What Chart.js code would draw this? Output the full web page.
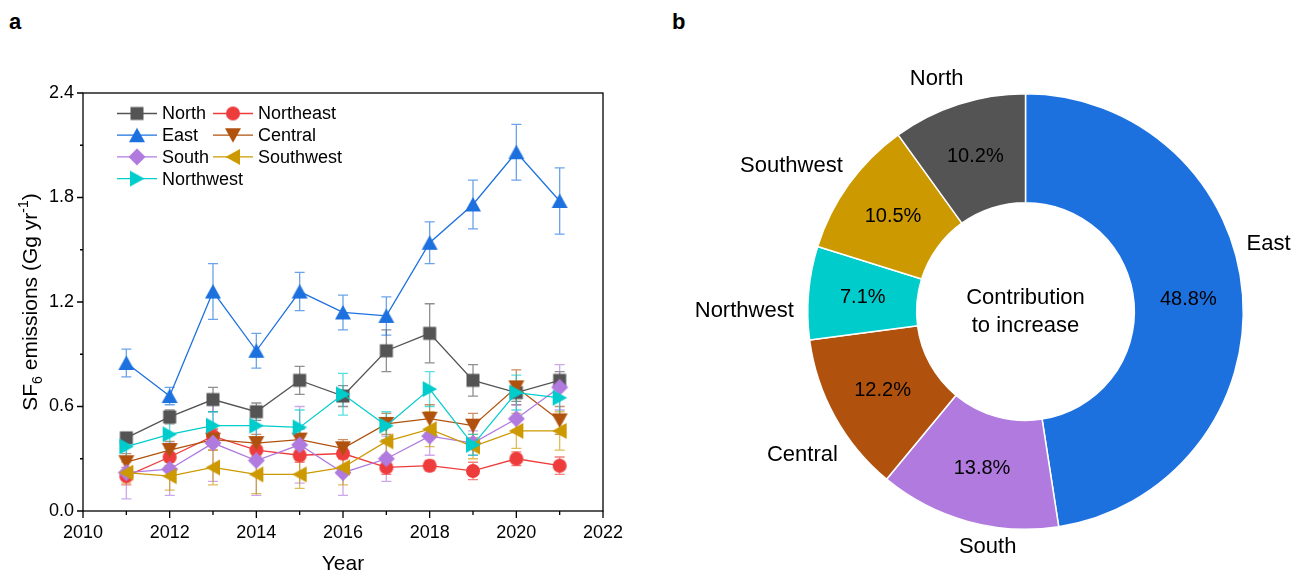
<!DOCTYPE html>
<html lang="en">
<head>
<meta charset="UTF-8" />
<title>SF6 emissions by region</title>
<script src="https://cdn.jsdelivr.net/npm/chart.js"></script>
<style>
  body {
    margin: 0;
    width: 1295px;
    height: 572px;
    background: #fff;
    font-family: 'Liberation Sans', Arial, sans-serif;
    position: relative;
    overflow: hidden;
  }
  .panel {
    position: absolute;
    top: 0;
    height: 572px;
  }
  #panelA { left: 0; width: 650px; }
  #panelB { left: 650px; width: 645px; }
  .tag {
    position: absolute;
    top: 9px;
    font-family: 'Liberation Sans Narrow', 'Liberation Sans', Arial, sans-serif;
    font-weight: bold;
    font-size: 22px;
    color: #000;
  }
</style>
</head>
<body>
  <div class="tag" style="left:9px">a</div>
  <div class="tag" style="left:672px">b</div>
  <div class="panel" id="panelA"><canvas id="lineChart"></canvas></div>
  <div class="panel" id="panelB"><canvas id="ringChart"></canvas></div>

<script>
// emissions per region, Gg/yr, with 1-sigma errors
const years = [2011, 2012, 2013, 2014, 2015, 2016, 2017, 2018, 2019, 2020, 2021];
const north       = [0.42, 0.54, 0.64, 0.57, 0.75, 0.66, 0.92, 1.02, 0.75, 0.68, 0.75];
const northErr    = [0.03, 0.04, 0.07, 0.05, 0.08, 0.06, 0.12, 0.17, 0.09, 0.05, 0.05];
const northeast   = [0.20, 0.31, 0.43, 0.35, 0.32, 0.33, 0.25, 0.26, 0.23, 0.30, 0.26];
const northeastErr= [0.05, 0.05, 0.04, 0.04, 0.04, 0.03, 0.04, 0.03, 0.05, 0.04, 0.05];
const east        = [0.85, 0.66, 1.26, 0.92, 1.26, 1.14, 1.12, 1.54, 1.76, 2.06, 1.78];
const eastErr     = [0.08, 0.05, 0.16, 0.10, 0.11, 0.10, 0.11, 0.12, 0.14, 0.16, 0.19];
const central     = [0.28, 0.35, 0.41, 0.39, 0.41, 0.36, 0.50, 0.53, 0.49, 0.71, 0.52];
const centralErr  = [0.05, 0.05, 0.06, 0.05, 0.06, 0.05, 0.06, 0.08, 0.07, 0.10, 0.08];
const south       = [0.22, 0.24, 0.39, 0.29, 0.38, 0.22, 0.30, 0.43, 0.39, 0.53, 0.71];
const southErr    = [0.15, 0.15, 0.22, 0.20, 0.22, 0.13, 0.13, 0.11, 0.07, 0.08, 0.13];
const southwest   = [0.22, 0.20, 0.25, 0.21, 0.21, 0.25, 0.40, 0.47, 0.37, 0.46, 0.46];
const southwestErr= [0.06, 0.08, 0.10, 0.11, 0.08, 0.10, 0.08, 0.10, 0.07, 0.10, 0.11];
const northwest   = [0.37, 0.44, 0.49, 0.49, 0.48, 0.67, 0.49, 0.70, 0.38, 0.68, 0.65];
const northwestErr= [0.08, 0.08, 0.08, 0.10, 0.10, 0.12, 0.08, 0.10, 0.06, 0.10, 0.12];

// share of the 2011-2021 increase, %
const shareRegions = ["East", "South", "Central", "Northwest", "Southwest", "North"];
const shareValues  = [48.8, 13.8, 12.2, 7.1, 10.5, 10.2];

const colors = {
  North: "#545454", Northeast: "#EE3C3C", East: "#1C71DF", Central: "#B0520E",
  South: "#B07ADF", Southwest: "#CC9900", Northwest: "#00CCCC"
};

const FONT = "'Liberation Sans', Arial, sans-serif";

// small marker bitmaps, centred on their bounding box
function marker(shape, color) {
  const c = document.createElement("canvas");
  const s = 18;
  c.width = s; c.height = s;
  const g = c.getContext("2d");
  const m = s / 2;
  g.fillStyle = color;
  g.beginPath();
  if (shape === "square") {
    g.rect(m - 6.5, m - 6.5, 13, 13);
  } else if (shape === "circle") {
    g.arc(m, m, 7, 0, Math.PI * 2);
  } else if (shape === "diamond") {
    g.moveTo(m, m - 8.5); g.lineTo(m + 8.5, m); g.lineTo(m, m + 8.5); g.lineTo(m - 8.5, m);
  } else if (shape === "up") {
    g.moveTo(m, m - 7.5); g.lineTo(m + 8, m + 7); g.lineTo(m - 8, m + 7);
  } else if (shape === "down") {
    g.moveTo(m, m + 7.5); g.lineTo(m + 8, m - 7); g.lineTo(m - 8, m - 7);
  } else if (shape === "left") {
    g.moveTo(m - 7.5, m); g.lineTo(m + 7, m - 8); g.lineTo(m + 7, m + 8);
  } else if (shape === "right") {
    g.moveTo(m + 7.5, m); g.lineTo(m - 7, m - 8); g.lineTo(m - 7, m + 8);
  }
  g.closePath();
  g.fill();
  return c;
}

const seriesDefs = [
  { name: "North",     data: north,     err: northErr,     shape: "square" },
  { name: "Northeast", data: northeast, err: northeastErr, shape: "circle" },
  { name: "East",      data: east,      err: eastErr,      shape: "up" },
  { name: "Central",   data: central,   err: centralErr,   shape: "down" },
  { name: "South",     data: south,     err: southErr,     shape: "diamond" },
  { name: "Southwest", data: southwest, err: southwestErr, shape: "left" },
  { name: "Northwest", data: northwest, err: northwestErr, shape: "right" }
];

const datasets = seriesDefs.map((s, i) => ({
  label: s.name,
  data: years.map((y, k) => ({ x: y, y: s.data[k] })),
  errors: s.err,
  borderColor: colors[s.name],
  backgroundColor: colors[s.name],
  borderWidth: 1.3,
  pointStyle: marker(s.shape, colors[s.name]),
  pointRadius: 8,
  order: seriesDefs.length - 1 - i
}));

function withAlpha(hex, a) {
  const n = parseInt(hex.slice(1), 16);
  return `rgba(${n >> 16 & 255},${n >> 8 & 255},${n & 255},${a})`;
}

// vertical error bars with caps, behind the lines
const errorBars = {
  id: "errorBars",
  beforeDatasetsDraw(chart) {
    const ctx = chart.ctx;
    const yScale = chart.scales.y;
    ctx.save();
    ctx.lineWidth = 1.3;
    chart.data.datasets.forEach((ds, i) => {
      const meta = chart.getDatasetMeta(i);
      ctx.strokeStyle = withAlpha(ds.borderColor, 0.65);
      meta.data.forEach((pt, k) => {
        const v = ds.data[k].y, e = ds.errors[k];
        const top = yScale.getPixelForValue(v + e);
        const bot = yScale.getPixelForValue(v - e);
        ctx.beginPath();
        ctx.moveTo(pt.x, top); ctx.lineTo(pt.x, bot);
        ctx.moveTo(pt.x - 5, top); ctx.lineTo(pt.x + 5, top);
        ctx.moveTo(pt.x - 5, bot); ctx.lineTo(pt.x + 5, bot);
        ctx.stroke();
      });
    });
    ctx.restore();
  }
};

// frame, major/minor ticks, axis titles and the legend
const frame = {
  id: "frame",
  afterDraw(chart) {
    const ctx = chart.ctx;
    const a = chart.chartArea;
    const xs = chart.scales.x, ys = chart.scales.y;
    ctx.save();
    ctx.strokeStyle = "#000";
    ctx.lineWidth = 1.3;
    ctx.strokeRect(a.left, a.top, a.right - a.left, a.bottom - a.top);

    ctx.beginPath();
    xs.ticks.forEach(t => {
      const px = xs.getPixelForValue(t.value);
      const len = t.value % 2 === 0 ? 7 : 4;
      ctx.moveTo(px, a.bottom); ctx.lineTo(px, a.bottom + len);
    });
    ys.ticks.forEach(t => {
      const py = ys.getPixelForValue(t.value);
      const len = Math.round(t.value * 10) % 6 === 0 ? 6 : 3;
      ctx.moveTo(a.left, py); ctx.lineTo(a.left - len, py);
    });
    ctx.stroke();

    // axis titles
    ctx.fillStyle = "#000";
    ctx.font = `21px ${FONT}`;
    ctx.textAlign = "center";
    ctx.textBaseline = "alphabetic";
    ctx.fillText("Year", (a.left + a.right) / 2, 570);

    const parts = [
      { t: "SF", size: 21, dy: 0 },
      { t: "6", size: 14, dy: 5 },
      { t: " emissions (Gg yr", size: 21, dy: 0 },
      { t: "-1", size: 14, dy: -9 },
      { t: ")", size: 21, dy: 0 }
    ];
    let total = 0;
    parts.forEach(p => { ctx.font = `${p.size}px ${FONT}`; p.w = ctx.measureText(p.t).width; total += p.w; });
    ctx.translate(37, (a.top + a.bottom) / 2);
    ctx.rotate(-Math.PI / 2);
    ctx.textAlign = "left";
    let x = -total / 2;
    parts.forEach(p => { ctx.font = `${p.size}px ${FONT}`; ctx.fillText(p.t, x, p.dy); x += p.w; });
    ctx.setTransform(1, 0, 0, 1, 0, 0);

    // legend, two columns
    const order = ["North", "Northeast", "East", "Central", "South", "Southwest", "Northwest"];
    ctx.font = `18px ${FONT}`;
    ctx.textBaseline = "middle";
    ctx.textAlign = "left";
    order.forEach((name, i) => {
      const ds = chart.data.datasets.find(d => d.label === name);
      const col = i % 2, row = Math.floor(i / 2);
      const x0 = a.left + 34 + col * 96;
      const y0 = a.top + 20.5 + row * 21.7;
      ctx.strokeStyle = ds.borderColor;
      ctx.lineWidth = 1.3;
      ctx.beginPath(); ctx.moveTo(x0, y0); ctx.lineTo(x0 + 40, y0); ctx.stroke();
      const img = ds.pointStyle;
      ctx.drawImage(img, x0 + 20 - img.width / 2, y0 - img.height / 2);
      ctx.fillStyle = "#000";
      ctx.fillText(name, x0 + 45, y0 + 1);
    });
    ctx.restore();
  }
};

new Chart(document.getElementById("lineChart"), {
  type: "line",
  data: { datasets },
  options: {
    responsive: true,
    maintainAspectRatio: false,
    animation: false,
    layout: { padding: { top: 93, right: 47, bottom: 0, left: 0 } },
    plugins: { legend: { display: false }, tooltip: { enabled: false } },
    scales: {
      x: {
        type: "linear", min: 2010, max: 2022,
        afterFit: s => { s.height = 61; },
        grid: { drawOnChartArea: false, drawTicks: false },
        border: { display: false },
        ticks: {
          stepSize: 1, autoSkip: false, maxRotation: 0, padding: 11, color: "#000",
          font: { family: FONT, size: 18 },
          callback: v => (v % 2 === 0 ? String(v) : "")
        }
      },
      y: {
        min: 0, max: 2.4,
        afterFit: s => { s.width = 83; },
        grid: { drawOnChartArea: false, drawTicks: false },
        border: { display: false },
        ticks: {
          stepSize: 0.3, autoSkip: false, padding: 9, color: "#000",
          font: { family: FONT, size: 18 },
          callback: v => (Math.round(v * 10) % 6 === 0 ? v.toFixed(1) : "")
        }
      }
    }
  },
  plugins: [errorBars, frame]
});

// region names outside the ring, percentages inside, caption in the hole
const labelNudge = {
  North: [-10, -4], Southwest: [-6, -5], East: [-8, -49],
  Northwest: [-3, 20], Central: [9, 27], South: [31, 4]
};

const ringLabels = {
  id: "ringLabels",
  afterDraw(chart) {
    const ctx = chart.ctx;
    const meta = chart.getDatasetMeta(0);
    ctx.save();
    ctx.fillStyle = "#000";
    ctx.textAlign = "center";
    ctx.textBaseline = "middle";
    meta.data.forEach((arc, i) => {
      const p = arc.tooltipPosition();
      ctx.font = `20px ${FONT}`;
      ctx.fillText(shareValues[i].toFixed(1) + "%", p.x, p.y);

      const mid = (arc.startAngle + arc.endAngle) / 2;
      const ux = Math.cos(mid), uy = Math.sin(mid);
      const r = arc.outerRadius + 12;
      ctx.font = `22px ${FONT}`;
      const name = shareRegions[i];
      const w = ctx.measureText(name).width;
      const nudge = labelNudge[name] || [0, 0];
      const lx = arc.x + r * ux + (w / 2) * ux + nudge[0];
      const ly = arc.y + r * uy + 10 * uy + nudge[1];
      ctx.fillText(name, lx, ly);
    });
    const c = meta.data[0];
    ctx.font = `22px ${FONT}`;
    ctx.fillText("Contribution", c.x, c.y - 14);
    ctx.fillText("to increase", c.x, c.y + 14);
    ctx.restore();
  }
};

new Chart(document.getElementById("ringChart"), {
  type: "doughnut",
  data: {
    labels: shareRegions,
    datasets: [{
      data: shareValues,
      backgroundColor: shareRegions.map(n => colors[n]),
      borderColor: "#fff",
      borderWidth: 1.5
    }]
  },
  options: {
    responsive: true,
    maintainAspectRatio: false,
    animation: false,
    cutout: "50%",
    layout: { padding: { top: 93, right: 51, bottom: 42, left: 157 } },
    plugins: { legend: { display: false }, tooltip: { enabled: false } }
  },
  plugins: [ringLabels]
});
</script>
</body>
</html>
